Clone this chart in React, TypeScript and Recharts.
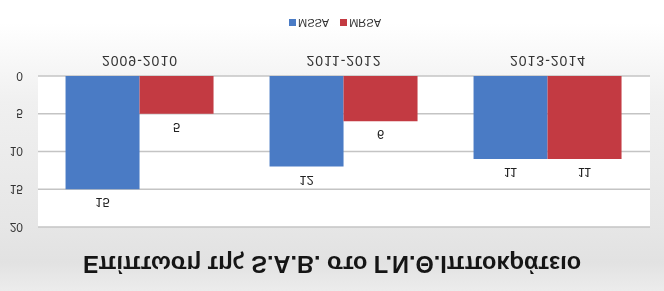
import React from 'react';
import { BarChart, Bar, XAxis, YAxis, CartesianGrid, LabelList } from 'recharts';

// Impact of S.A.B. at Hippokration General Hospital, by two-year period
const periods = ['2009-2010', '2011-2012', '2013-2014'];
const mssaCases = [15, 12, 11];
const mrsaCases = [5, 6, 11];
const valueTicks = [0, 5, 10, 15, 20];

const chartTitle = 'Επίπτωση της S.A.B. στο Γ.Ν.Θ.Ιπποκράτειο';

const rows = periods.map((period, i) => ({
  period,
  MSSA: mssaCases[i],
  MRSA: mrsaCases[i],
}));

const BLUE = '#4a7bc5';
const RED = '#c33a42';
const FONT = '"Liberation Sans", Arial, sans-serif';

const seriesKeys = [
  { key: 'MSSA', color: BLUE },
  { key: 'MRSA', color: RED },
];

function LegendRow() {
  return (
    <div
      style={{
        position: 'absolute',
        top: 261,
        left: 289,
        display: 'flex',
        alignItems: 'center',
        fontSize: 11,
        color: '#333',
        lineHeight: '14px',
      }}
    >
      {seriesKeys.map((s) => (
        <div key={s.key} style={{ display: 'flex', alignItems: 'center', marginRight: 11 }}>
          <span style={{ display: 'inline-block', width: 7, height: 7, background: s.color, marginRight: 2 }} />
          <span>{s.key}</span>
        </div>
      ))}
    </div>
  );
}

export default function App() {
  return (
    <div
      style={{
        position: 'fixed',
        top: 0,
        left: 0,
        width: 664,
        height: 291,
        overflow: 'hidden',
        transform: 'scaleY(-1)',
        transformOrigin: '50% 50%',
        background:
          'linear-gradient(to bottom, #ececec 0%, #e2e2e2 10%, #e6e6e6 22%, #f0f0f0 65%, #ffffff 92%)',
        fontFamily: FONT,
      }}
    >
      <div
        style={{
          position: 'absolute',
          top: 12,
          left: 0,
          width: 664,
          textAlign: 'center',
          fontSize: 23.5,
          fontWeight: 'bold',
          color: '#151515',
          lineHeight: '30px',
        }}
      >
        {chartTitle}
      </div>
      <BarChart
        width={664}
        height={291}
        data={rows}
        margin={{ top: 64, right: 14, bottom: 46, left: 0 }}
        barCategoryGap="13.5%"
        barGap={0}
        style={{ position: 'absolute', top: 0, left: 0 }}
      >
        <CartesianGrid vertical={false} stroke="#c4c4c4" strokeWidth={1.5} fill="#ffffff" />
        <YAxis
          width={38}
          domain={[0, 20]}
          ticks={valueTicks}
          axisLine={false}
          tickLine={false}
          tickSize={0}
          tickMargin={15}
          tick={{ fontSize: 12, fill: '#333', fontFamily: FONT }}
        />
        <XAxis
          dataKey="period"
          height={30}
          axisLine={false}
          tickLine={false}
          tickSize={0}
          tickMargin={10}
          tick={{ fontSize: 14, fill: '#333', fontFamily: FONT, letterSpacing: 1 }}
        />
        <Bar dataKey="MSSA" fill={BLUE} isAnimationActive={false}>
          <LabelList dataKey="MSSA" position="top" offset={9} fill="#222" fontSize={13} fontFamily={FONT} />
        </Bar>
        <Bar dataKey="MRSA" fill={RED} isAnimationActive={false}>
          <LabelList dataKey="MRSA" position="top" offset={9} fill="#222" fontSize={13} fontFamily={FONT} />
        </Bar>
      </BarChart>
      <LegendRow />
    </div>
  );
}
